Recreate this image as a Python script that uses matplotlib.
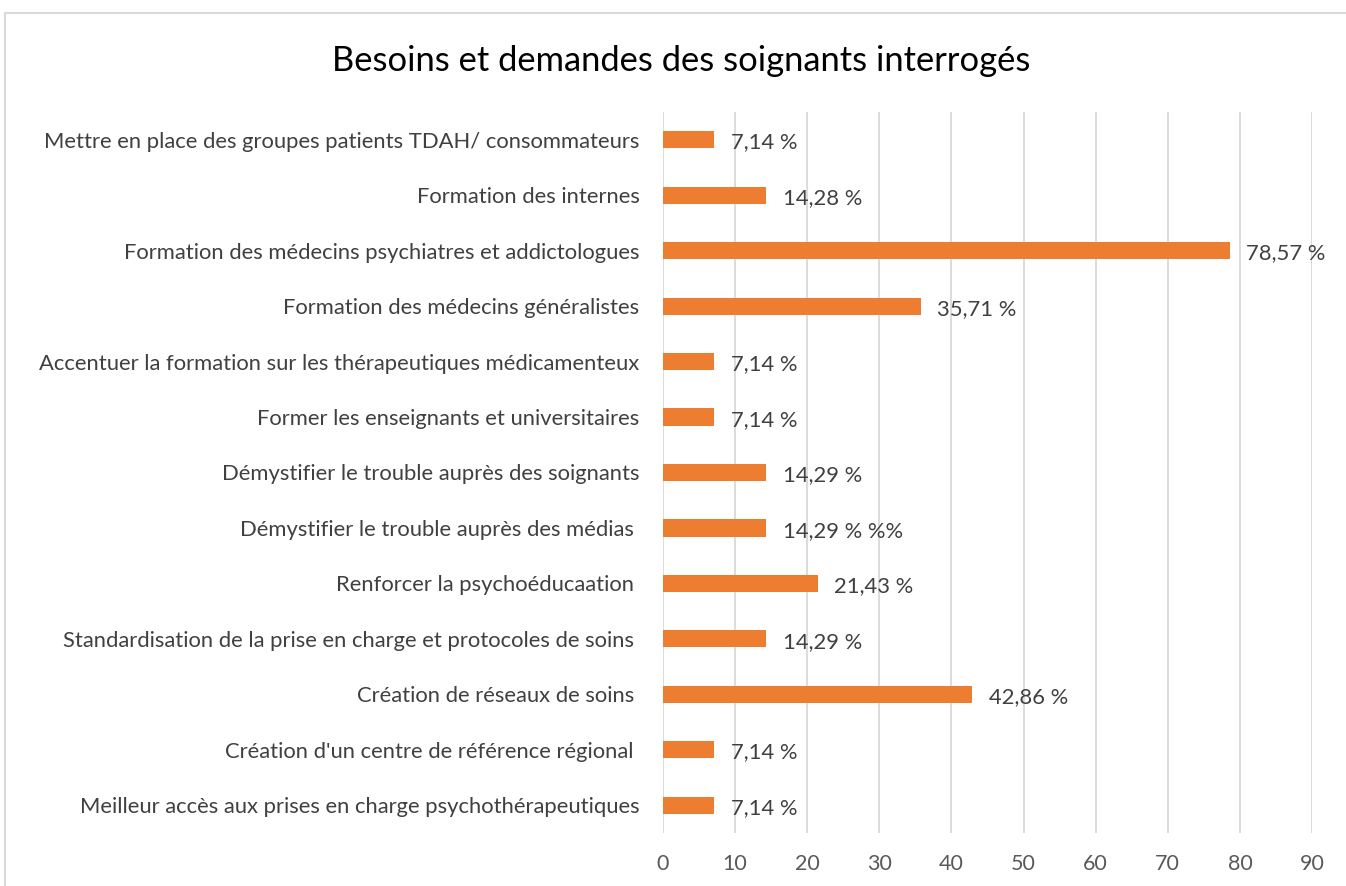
import matplotlib
matplotlib.use("Agg")
import matplotlib.pyplot as plt
from matplotlib.patches import Rectangle

categories = [
    "Mettre en place des groupes patients TDAH/ consommateurs",
    "Formation des internes",
    "Formation des médecins psychiatres et addictologues",
    "Formation des médecins généralistes",
    "Accentuer la formation sur les thérapeutiques médicamenteux",
    "Former les enseignants et universitaires",
    "Démystifier le trouble auprès des soignants",
    "Démystifier le trouble auprès des médias ",
    "Renforcer la psychoéducaation ",
    "Standardisation de la prise en charge et protocoles de soins ",
    "Création de réseaux de soins ",
    "Création d'un centre de référence régional ",
    "Meilleur accès aux prises en charge psychothérapeutiques",
]
values = [7.14, 14.28, 78.57, 35.71, 7.14, 7.14, 14.29, 14.29, 21.43, 14.29, 42.86, 7.14, 7.14]
value_labels = ["7,14 %", "14,28 %", "78,57 %", "35,71 %", "7,14 %", "7,14 %", "14,29 %",
                "14,29 % %%", "21,43 %", "14,29 %", "42,86 %", "7,14 %", "7,14 %"]
xticks = [0, 10, 20, 30, 40, 50, 60, 70, 80, 90]
title = "Besoins et demandes des soignants interrogés"

plt.rcParams['font.family'] = ['Lato', 'DejaVu Sans']

W, H = 1346, 886
fig = plt.figure(figsize=(W/100, H/100), dpi=100)
ax = fig.add_axes([663/W, 1-833/H, (1312-663)/W, (833-112)/H])

n = len(categories)
ypos = list(range(n))
ax.barh(ypos, values, height=0.31, color="#ED7D31", zorder=3)
ax.set_ylim(n - 0.5, -0.5)
ax.set_xlim(0, 90)
ax.set_xticks(xticks)
ax.set_xticklabels([str(t) for t in xticks], fontsize=15.5, color="#595959")
ax.set_yticks(ypos)
ax.set_yticklabels(categories, fontsize=15.8, color="#404040")
ax.tick_params(axis='x', length=0, pad=15)
ax.tick_params(axis='y', length=0, pad=17)
ax.grid(axis='x', color="#D9D9D9", linewidth=1.3, zorder=0)
for s in ax.spines.values():
    s.set_visible(False)

for y, v, lab in zip(ypos, values, value_labels):
    ax.annotate(lab, (v, y), xytext=(12, -2), textcoords="offset points",
                ha="left", va="center", fontsize=15.8, color="#404040")

fig.text(681/W, 1-61/H, title, ha="center", va="center", fontsize=24.8, color="black")

fig.patches.append(Rectangle((5/W, -0.1), 1.2, 1.1 - 13/H, transform=fig.transFigure,
                             fill=False, edgecolor="#D9D9D9", linewidth=1.5))

fig.savefig("out.png", dpi=100)
